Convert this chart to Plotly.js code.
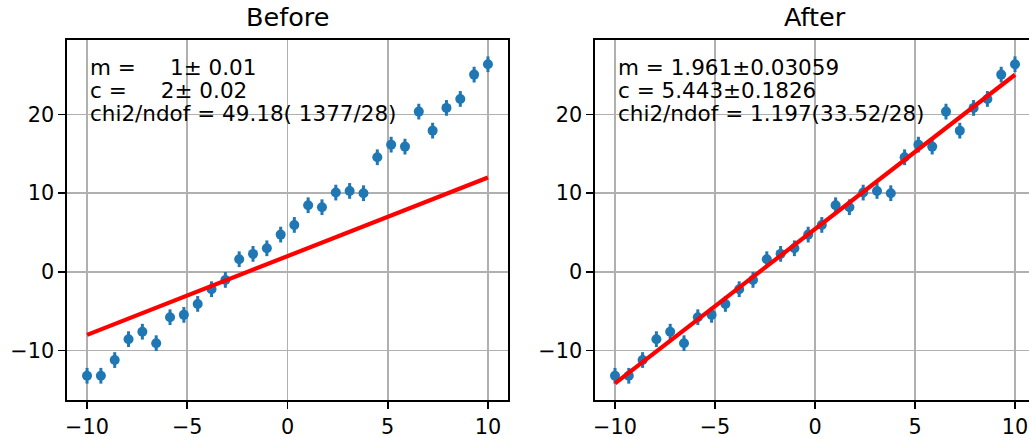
<!DOCTYPE html>
<html>
<head>
<meta charset="utf-8">
<script src="https://cdn.plot.ly/plotly-3.0.1.min.js"></script>
<style>html,body{margin:0;padding:0;background:#fff;}#chart{width:1029px;height:438px;}</style>
</head>
<body>
<div id="chart"></div>
<script>
// ---- data ----
var xVals = [-10, -9.31, -8.62, -7.93, -7.24, -6.55, -5.86, -5.17, -4.48, -3.79,
             -3.10, -2.41, -1.72, -1.03, -0.34, 0.34, 1.03, 1.72, 2.41, 3.10,
             3.79, 4.48, 5.17, 5.86, 6.55, 7.24, 7.93, 8.62, 9.31, 10];
var yVals = [-13.2, -13.2, -11.2, -8.55, -7.6, -9.06, -5.76, -5.46, -4.07, -2.2,
             -1.02, 1.61, 2.29, 3.0, 4.74, 5.97, 8.47, 8.22, 10.08, 10.29,
             10.0, 14.57, 16.17, 15.92, 20.37, 17.95, 20.84, 21.98, 25.07, 26.39];
var yErr = [1,1,1,1,1,1,1,1,1,1,1,1,1,1,1,1,1,1,1,1,1,1,1,1,1,1,1,1,1,1];

var panelTitles = ["Before", "After"];
var slopes = [1, 1.961];
var intercepts = [2, 5.443];
var fitText = [
  ["m =     1\u00b1 0.01", "c =     2\u00b1 0.02", "chi2/ndof = 49.18( 1377/28)"],
  ["m = 1.961\u00b10.03059", "c = 5.443\u00b10.1826", "chi2/ndof = 1.197(33.52/28)"]
];
var xTicks = [-10, -5, 0, 5, 10];
var xTickText = ["\u221210", "\u22125", "0", "5", "10"];
var yTicks = [-10, 0, 10, 20];
var yTickText = ["\u221210", "0", "10", "20"];

// ---- drawing ----
var W = 1029, H = 438;
var FONT = "DejaVu Sans, sans-serif";
var blue = "#1f77b4";
var traces = [];
var suffix = ["", "2"];
for (var p = 0; p < 2; p++) {
  traces.push({
    x: xVals, y: yVals, type: "scatter", mode: "markers",
    xaxis: "x" + suffix[p], yaxis: "y" + suffix[p],
    marker: {color: blue, size: 10},
    error_y: {type: "data", array: yErr, visible: true, color: blue, thickness: 3, width: 0},
    hoverinfo: "skip", showlegend: false
  });
  var m = slopes[p], c = intercepts[p];
  traces.push({
    x: xVals, y: xVals.map(function(v){ return m * v + c; }),
    type: "scatter", mode: "lines",
    xaxis: "x" + suffix[p], yaxis: "y" + suffix[p],
    line: {color: "#ff0000", width: 4.2},
    hoverinfo: "skip", showlegend: false
  });
}

function px(v){ return v / W; }
function py(v){ return 1 - v / H; }

var axCommon = {
  showgrid: true, gridcolor: "#b0b0b0", gridwidth: 1.7,
  zeroline: false, showline: true, linecolor: "#000", linewidth: 1.7,
  ticks: "outside", ticklen: 7, tickwidth: 1.7, tickcolor: "#000",
  tickfont: {family: FONT, size: 20.8, color: "#000"}
};
function ax(extra){ var o = JSON.parse(JSON.stringify(axCommon)); for (var k in extra) o[k] = extra[k]; return o; }

var yDom = [py(400), py(40)];
var yRange = [-16.28, 29.47];

var layout = {
  width: W, height: H,
  margin: {l: 0, r: 0, t: 0, b: 0, pad: 0},
  paper_bgcolor: "#fff", plot_bgcolor: "#fff",
  showlegend: false,
  xaxis: ax({domain: [px(67), px(508)], range: [-11, 11], anchor: "y", mirror: true,
             tickvals: xTicks, ticktext: xTickText}),
  yaxis: ax({domain: yDom, range: yRange, anchor: "x", mirror: true,
             tickvals: yTicks, ticktext: yTickText}),
  xaxis2: ax({domain: [px(595), 1], range: [-11, 10.7], anchor: "y2", mirror: true,
              tickvals: xTicks, ticktext: xTickText}),
  yaxis2: ax({domain: yDom, range: yRange, anchor: "x2", mirror: false,
              tickvals: yTicks, ticktext: yTickText}),
  annotations: []
};

var titleX = [287.5, 815];
var textX = [88, 616];
var lineY = [67.5, 90.5, 113.5];
for (var p2 = 0; p2 < 2; p2++) {
  layout.annotations.push({
    text: panelTitles[p2], xref: "paper", yref: "paper",
    x: px(titleX[p2]), y: py(34), xanchor: "center", yanchor: "bottom",
    showarrow: false, font: {family: FONT, size: 25.5, color: "#000"}
  });
  for (var i = 0; i < 3; i++) {
    layout.annotations.push({
      text: fitText[p2][i].replace(/ /g, "\u00a0"), xref: "paper", yref: "paper",
      x: px(textX[p2]), y: py(lineY[i]), xanchor: "left", yanchor: "middle",
      showarrow: false, font: {family: FONT, size: 21.5, color: "#000"}
    });
  }
}

Plotly.newPlot("chart", traces, layout, {staticPlot: true, displayModeBar: false});
</script>
</body>
</html>
